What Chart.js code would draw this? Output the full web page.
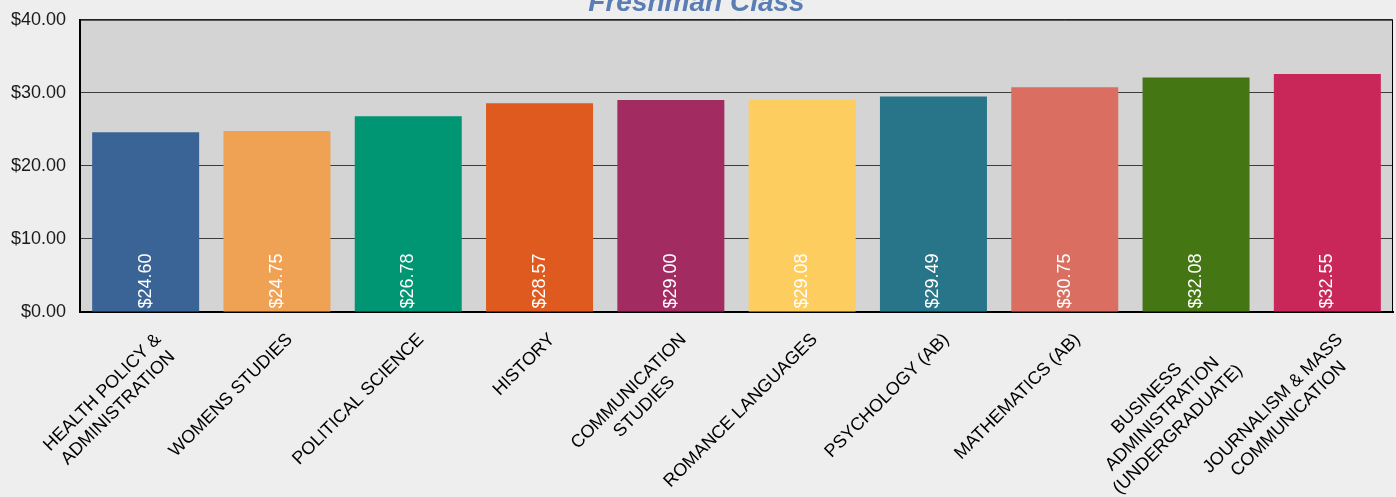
<!DOCTYPE html>
<html><head><meta charset="utf-8">
<script src="https://cdn.jsdelivr.net/npm/chart.js@4.4.1/dist/chart.umd.min.js"></script>
<style>html,body{margin:0;padding:0;background:#eeeeee;overflow:hidden}#c{display:block}</style>
</head><body><canvas id="c" width="1396" height="497"></canvas>
<script>
const titleText = "Freshman Class";
const categories = [
  ["HEALTH POLICY &", "ADMINISTRATION"],
  ["WOMENS STUDIES"],
  ["POLITICAL SCIENCE"],
  ["HISTORY"],
  ["COMMUNICATION", "STUDIES"],
  ["ROMANCE LANGUAGES"],
  ["PSYCHOLOGY (AB)"],
  ["MATHEMATICS (AB)"],
  ["BUSINESS", "ADMINISTRATION", "(UNDERGRADUATE)"],
  ["JOURNALISM & MASS", "COMMUNICATION"]
];
const values = [24.60, 24.75, 26.78, 28.57, 29.00, 29.08, 29.49, 30.75, 32.08, 32.55];
const barColors = ["#3a6496", "#f0a254", "#009573", "#df5a1f", "#a22c61", "#fecd60", "#287489", "#da6f61", "#447614", "#c9275a"];
const yMin = 0, yMax = 40, yStep = 10;

const FONT = "'Liberation Sans', Arial, sans-serif";
const money = v => "$" + Number(v).toFixed(2);

const plotBg = {
  id: 'plotBg',
  beforeDraw(chart) {
    const {ctx, chartArea: a} = chart;
    ctx.save();
    ctx.fillStyle = '#d4d4d4';
    ctx.fillRect(a.left, a.top, a.right - a.left, a.bottom - a.top);
    ctx.restore();
  },
  afterDraw(chart) {
    const {ctx, chartArea: a} = chart;
    ctx.save();
    ctx.strokeStyle = '#000';
    ctx.lineWidth = 1;
    ctx.beginPath();
    ctx.moveTo(a.left, a.top + 0.5);
    ctx.lineTo(a.right - 0.5, a.top + 0.5);
    ctx.lineTo(a.right - 0.5, a.bottom);
    ctx.stroke();
    ctx.restore();
  }
};

const valueLabels = {
  id: 'valueLabels',
  afterDatasetsDraw(chart) {
    const {ctx} = chart;
    const meta = chart.getDatasetMeta(0);
    ctx.save();
    ctx.font = '18px ' + FONT;
    ctx.fillStyle = '#ffffff';
    ctx.textAlign = 'left';
    ctx.textBaseline = 'middle';
    meta.data.forEach((bar, i) => {
      ctx.save();
      ctx.translate(bar.x, bar.base - 3);
      ctx.rotate(-Math.PI / 2);
      ctx.fillText(money(values[i]), 0, 0);
      ctx.restore();
    });
    ctx.restore();
  }
};

const catLabels = {
  id: 'catLabels',
  afterDraw(chart) {
    const {ctx, chartArea: a} = chart;
    const xs = chart.scales.x;
    ctx.save();
    ctx.font = '18px ' + FONT;
    ctx.fillStyle = '#000000';
    ctx.textAlign = 'center';
    ctx.textBaseline = 'alphabetic';
    categories.forEach((lines, i) => {
      const px = xs.getPixelForValue(i);
      const W = Math.max(...lines.map(l => ctx.measureText(l).width));
      ctx.save();
      ctx.translate(px + 7, a.bottom + 19);
      ctx.rotate(-Math.PI / 4);
      lines.forEach((l, j) => ctx.fillText(l, -W / 2, 13 + j * 22));
      ctx.restore();
    });
    ctx.restore();
  }
};

new Chart(document.getElementById('c'), {
  type: 'bar',
  data: {
    labels: categories,
    datasets: [{
      data: values,
      backgroundColor: barColors,
      borderWidth: 0,
      barPercentage: 0.815,
      categoryPercentage: 1.0
    }]
  },
  options: {
    responsive: false,
    animation: false,
    devicePixelRatio: 1,
    layout: {padding: {left: 0, right: 3, top: 0, bottom: 0}},
    plugins: {
      legend: {display: false},
      tooltip: {enabled: false},
      title: {
        display: true,
        text: titleText,
        color: '#5a7db3',
        font: {family: FONT, size: 28, weight: 'bold', style: 'italic', lineHeight: 1.2},
        padding: {top: -14, bottom: 0}
      }
    },
    scales: {
      x: {
        grid: {display: false},
        border: {display: true, color: '#000', width: 2},
        ticks: {display: false},
        afterFit(s) { s.height = 185; }
      },
      y: {
        min: yMin, max: yMax,
        grid: {color: '#3c3c3c', lineWidth: 1, drawTicks: true, tickLength: 11, tickColor: 'rgba(0,0,0,0)'},
        border: {display: true, color: '#000', width: 2},
        ticks: {
          stepSize: yStep,
          padding: 3,
          color: '#1a1a1a',
          font: {family: FONT, size: 18},
          callback: v => money(v)
        },
        afterFit(s) { s.width = 80; }
      }
    }
  },
  plugins: [plotBg, valueLabels, catLabels]
});
</script>
</body></html>
